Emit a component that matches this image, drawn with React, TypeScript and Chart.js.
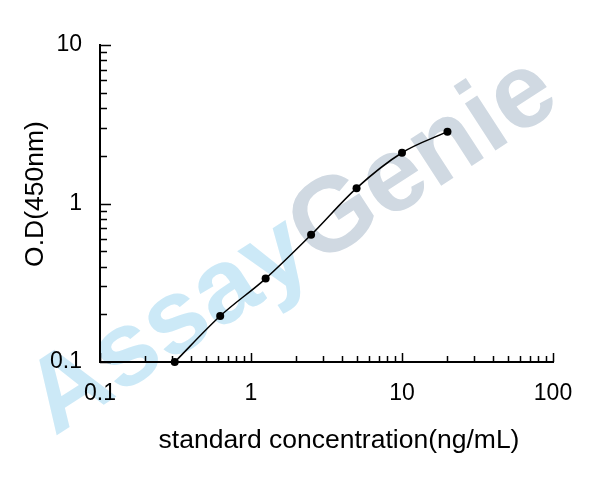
import React, { useEffect, useRef } from 'react';
import { Chart, registerables } from 'chart.js';

Chart.register(...registerables);

// standard curve data
const concentrations = [0.3125, 0.625, 1.25, 2.5, 5, 10, 20];
const odValues = [0.1, 0.195, 0.336, 0.634, 1.25, 2.09, 2.84];

const xMajorTicks = [0.1, 1, 10, 100];
const yMajorTicks = [0.1, 1, 10];

const xTitle = 'standard concentration(ng/mL)';
const yTitle = 'O.D(450nm)';
const watermarkParts = ['Assay', 'Genie'];

const FONT = '"Liberation Sans", Arial, sans-serif';

// inward tick marks (major + minor) on the log axes
const tickMarksPlugin = {
  id: 'tickMarks',
  afterDraw(chart: any) {
    const { ctx, chartArea, scales } = chart;
    ctx.save();
    ctx.strokeStyle = '#000';
    ctx.lineWidth = 1.5;
    ctx.beginPath();
    for (let i = 0; i < yMajorTicks.length; i++) {
      const dec = yMajorTicks[i];
      const y = Math.round(scales.y.getPixelForValue(dec)) + 0.5;
      ctx.moveTo(chartArea.left, y);
      ctx.lineTo(chartArea.left + 11, y);
      if (i === yMajorTicks.length - 1) break;
      for (let m = 2; m <= 9; m++) {
        const ym = Math.round(scales.y.getPixelForValue(dec * m)) + 0.5;
        ctx.moveTo(chartArea.left, ym);
        ctx.lineTo(chartArea.left + 7, ym);
      }
    }
    for (let i = 0; i < xMajorTicks.length; i++) {
      const dec = xMajorTicks[i];
      const x = Math.round(scales.x.getPixelForValue(dec)) + 0.5;
      ctx.moveTo(x, chartArea.bottom);
      ctx.lineTo(x, chartArea.bottom - 9);
      if (i === xMajorTicks.length - 1) break;
      for (let m = 2; m <= 9; m++) {
        const xm = Math.round(scales.x.getPixelForValue(dec * m)) + 0.5;
        ctx.moveTo(xm, chartArea.bottom);
        ctx.lineTo(xm, chartArea.bottom - 6);
      }
    }
    ctx.stroke();

    // axis titles
    ctx.fillStyle = '#000';
    ctx.font = `26.5px ${FONT}`;
    ctx.textAlign = 'center';
    ctx.textBaseline = 'middle';
    ctx.fillText(xTitle, 339, 441);
    ctx.translate(36, 194);
    ctx.rotate(-Math.PI / 2);
    ctx.fillText(yTitle, 0, 0);
    ctx.restore();
  },
};

// faint diagonal logo behind everything
const watermarkPlugin = {
  id: 'watermark',
  beforeDraw(chart: any) {
    const { ctx } = chart;
    ctx.save();
    ctx.translate(293, 247);
    ctx.rotate((-33 * Math.PI) / 180);
    ctx.font = `bold 106px ${FONT}`;
    ctx.textBaseline = 'middle';
    ctx.textAlign = 'left';
    const wA = ctx.measureText(watermarkParts[0]).width;
    const wG = ctx.measureText(watermarkParts[1]).width;
    const start = -(wA + wG) / 2;
    ctx.fillStyle = '#cce9f7';
    ctx.fillText(watermarkParts[0], start, 0);
    ctx.fillStyle = '#d0d9e2';
    ctx.fillText(watermarkParts[1], start + wA, 0);
    ctx.restore();
  },
};

export default function App() {
  const canvasRef = useRef<HTMLCanvasElement>(null);

  useEffect(() => {
    if (!canvasRef.current) return;
    const chart = new Chart(canvasRef.current, {
      type: 'scatter',
      data: {
        datasets: [
          {
            data: concentrations.map((c, i) => ({ x: c, y: odValues[i] })),
            showLine: true,
            borderColor: '#000',
            borderWidth: 1.5,
            backgroundColor: '#000',
            pointRadius: 4,
            pointBorderWidth: 0,
            cubicInterpolationMode: 'monotone',
            clip: false,
          } as any,
        ],
      },
      options: {
        animation: false,
        responsive: true,
        maintainAspectRatio: false,
        layout: { padding: { top: 45, right: 55, left: 0, bottom: 0 } },
        plugins: {
          legend: { display: false },
          tooltip: { enabled: false },
        },
        scales: {
          x: {
            type: 'logarithmic',
            min: 0.1,
            max: 100,
            afterBuildTicks: (scale: any) => {
              scale.ticks = xMajorTicks.map((v) => ({ value: v }));
            },
            afterFit: (scale: any) => {
              scale.height = 116;
            },
            grid: { display: false, drawTicks: false },
            border: { display: true, color: '#000', width: 2 },
            ticks: {
              autoSkip: false,
              maxRotation: 0,
              padding: 18,
              color: '#000',
              font: { family: FONT, size: 23 },
              callback: (v: any) => String(v),
            },
          },
          y: {
            type: 'logarithmic',
            min: 0.1,
            max: 10,
            afterBuildTicks: (scale: any) => {
              scale.ticks = yMajorTicks.map((v) => ({ value: v }));
            },
            afterFit: (scale: any) => {
              scale.width = 100;
            },
            grid: { display: false, drawTicks: false },
            border: { display: true, color: '#000', width: 2 },
            ticks: {
              autoSkip: false,
              padding: 18,
              color: '#000',
              font: { family: FONT, size: 23 },
              callback: (v: any) => String(v),
            },
          },
        },
      },
      plugins: [watermarkPlugin, tickMarksPlugin],
    });
    return () => chart.destroy();
  }, []);

  return (
    <div style={{ position: 'fixed', left: 0, top: 0, width: 608, height: 478, background: '#fff' }}>
      <canvas ref={canvasRef}></canvas>
    </div>
  );
}
